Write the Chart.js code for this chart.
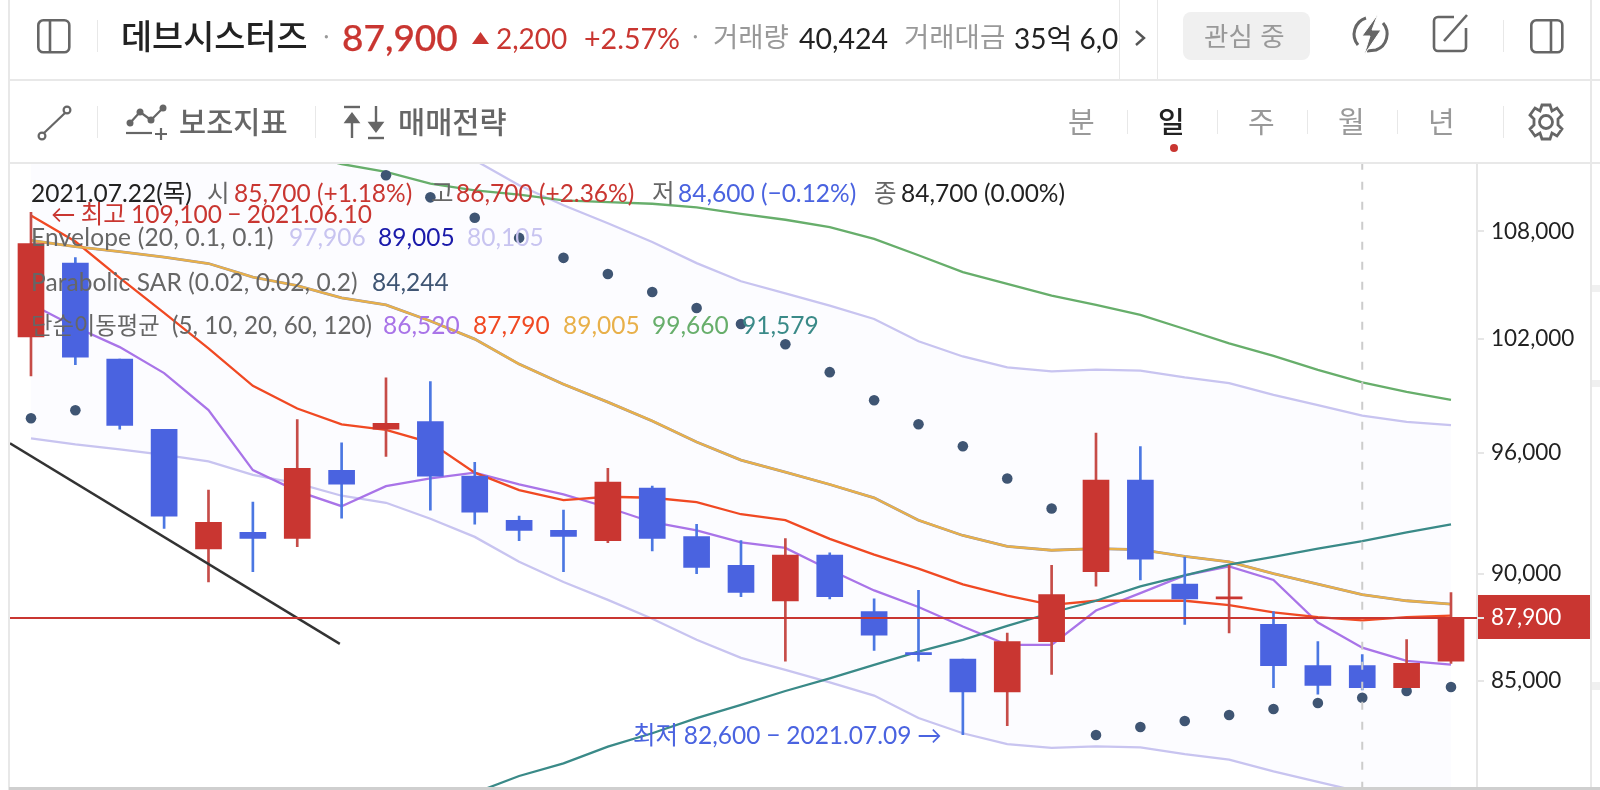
<!DOCTYPE html>
<html lang="ko">
<head>
<meta charset="utf-8">
<title>데브시스터즈</title>
<script src="https://cdn.jsdelivr.net/npm/chart.js@4"></script>
<style>
html,body{margin:0;padding:0;background:#fff;}
body{width:1600px;height:790px;position:relative;overflow:hidden;font-family:Lato,"Noto Sans CJK KR",sans-serif;}
canvas{position:absolute;left:0;top:0;}
.t{position:absolute;white-space:nowrap;line-height:1;}
.l{position:absolute;background:#e8e8e8;}
.h{font-family:"Noto Sans CJK KR",sans-serif;}
.lg{font-size:24.5px;color:#666;}
svg{position:absolute;overflow:visible;}
</style>
</head>
<body>
<canvas id="c" width="1600" height="795"></canvas>

<div class="l" style="left:8px;top:0;width:2px;height:790px"></div>
<div class="l" style="left:1590px;top:0;width:2px;height:163px"></div>
<div class="l" style="left:1590px;top:163px;width:2px;height:625px"></div>
<div class="l" style="left:9px;top:79px;width:1591px;height:2px"></div>
<div class="l" style="left:9px;top:162px;width:1591px;height:2px"></div>
<div class="l" style="left:9px;top:787px;width:1591px;height:3px;background:#cfcfcf"></div>
<div class="l" style="left:1592px;top:285px;width:8px;height:7px;background:#f0f0f0"></div>
<div class="l" style="left:1592px;top:380px;width:8px;height:7px;background:#f0f0f0"></div>
<div class="l" style="left:1592px;top:682px;width:8px;height:8px;background:#f0f0f0"></div>
<div class="l" style="left:1119px;top:0;width:1px;height:80px"></div>
<div class="l" style="left:1157px;top:0;width:1px;height:80px"></div>
<div class="l" style="left:97px;top:20px;width:1px;height:32px"></div>
<div class="l" style="left:1503px;top:20px;width:1px;height:32px"></div>
<div class="l" style="left:97px;top:106px;width:1px;height:32px"></div>
<div class="l" style="left:315px;top:106px;width:1px;height:32px"></div>
<div class="l" style="left:1127px;top:110px;width:1px;height:24px"></div>
<div class="l" style="left:1217px;top:110px;width:1px;height:24px"></div>
<div class="l" style="left:1307px;top:110px;width:1px;height:24px"></div>
<div class="l" style="left:1397px;top:110px;width:1px;height:24px"></div>
<div class="l" style="left:1503px;top:106px;width:1px;height:32px"></div>

<!-- header icons -->
<svg style="left:37px;top:19px" width="34" height="35" fill="none" stroke="#666" stroke-width="2.6"><rect x="1.3" y="1.3" width="31" height="32" rx="5"/><line x1="13" y1="1.3" x2="13" y2="33"/></svg>
<svg style="left:1530px;top:19px" width="34" height="35" fill="none" stroke="#666" stroke-width="2.6"><rect x="1.3" y="1.3" width="31" height="32" rx="5"/><line x1="21" y1="1.3" x2="21" y2="33"/></svg>
<svg style="left:1352px;top:14px" width="37" height="40" fill="none" stroke="#666" stroke-width="3"><path d="M6 31 A17 17 0 0 1 14 4"/><path d="M31 9 A17 17 0 0 1 24 36 L15 37"/><path d="M26 0 L10 22 L18 22 L12 41 L29 16 L20 16 Z" fill="#666" stroke="#fff" stroke-width="1"/></svg>
<svg style="left:1432px;top:14px" width="38" height="40" fill="none" stroke="#666" stroke-width="2.6"><path d="M22 3 H6 a4 4 0 0 0 -4 4 V33 a4 4 0 0 0 4 4 H30 a4 4 0 0 0 4 -4 V14"/><path d="M12 27 L35 1" stroke-width="2.6"/></svg>
<svg style="left:1133px;top:29px" width="14" height="18" fill="none" stroke="#555" stroke-width="2.4"><path d="M3 2 L11 9 L3 16"/></svg>
<svg style="left:37px;top:104px" width="35" height="37" fill="none" stroke="#666" stroke-width="2.2"><circle cx="30" cy="6" r="3.4"/><circle cx="5" cy="32" r="3.4"/><line x1="28" y1="9" x2="7" y2="29"/></svg>
<svg style="left:126px;top:105px" width="42" height="36" fill="none" stroke="#666" stroke-width="2.2"><path d="M4 18 L14 7 L25 15 L37 3"/><circle cx="4" cy="18" r="2.4" fill="#666"/><circle cx="14" cy="7" r="2.4" fill="#666"/><circle cx="25" cy="15" r="2.4" fill="#666"/><circle cx="37" cy="3" r="2.4" fill="#666"/><line x1="0" y1="28" x2="26" y2="28"/><path d="M29 29 H41 M35 23 V35"/></svg>
<svg style="left:344px;top:105px" width="42" height="36" fill="#666" stroke="#666" stroke-width="2.4"><line x1="0" y1="2" x2="16" y2="2"/><line x1="8" y1="12" x2="8" y2="33"/><path d="M2 17 L8 9 L14 17 Z"/><line x1="32" y1="1" x2="32" y2="24"/><path d="M26 18 L32 26 L38 18 Z"/><line x1="24" y1="33" x2="40" y2="33"/></svg>
<svg style="left:1527px;top:103px" width="38" height="38" fill="none" stroke="#666" stroke-width="2.8"><path d="M15 2 H23 L25 8 L30 5 L35 12 L31 16 V22 L35 26 L30 33 L25 30 L23 36 H15 L13 30 L8 33 L3 26 L7 22 V16 L3 12 L8 5 L13 8 Z"/><circle cx="19" cy="19" r="6.5"/></svg>
<svg style="left:472px;top:32px" width="18" height="13"><path d="M0 12 L8.5 0 L17 12 Z" fill="#c93631"/></svg>
<svg style="left:1170px;top:144px" width="8" height="8"><circle cx="4" cy="4" r="4" fill="#c93631"/></svg>

<!-- header text -->
<div class="t h" style="left:121px;top:18px;font-size:33.8px;font-weight:500;color:#222">데브시스터즈</div>
<div class="t h" style="left:323px;top:24px;font-size:24px;color:#999">·</div>
<div class="t" style="left:342px;top:18px;font-size:37px;font-weight:500;color:#c93631;-webkit-text-stroke:0.25px #c93631">87,900</div>
<div class="t" style="left:496px;top:24px;font-size:28px;color:#c93631">2,200</div>
<div class="t" style="left:584px;top:24px;font-size:28.6px;color:#c93631">+2.57%</div>
<div class="t h" style="left:692px;top:24px;font-size:24px;color:#999">·</div>
<div class="t h" style="left:713px;top:22px;font-size:27.5px;color:#999">거래량</div>
<div class="t" style="left:799px;top:24px;font-size:28.5px;color:#222">40,424</div>
<div class="t h" style="left:904px;top:22px;font-size:27.5px;color:#999">거래대금</div>
<div class="t" style="left:1014px;top:22px;width:105px;overflow:hidden;font-size:28px;color:#222;line-height:32px;font-family:Lato,'Noto Sans CJK KR'">35억 6,0</div>
<div class="l" style="left:1183px;top:12px;width:127px;height:48px;border-radius:8px;background:#f0f0f0"></div>
<div class="t h" style="left:1204px;top:22px;font-size:26.5px;color:#999">관심 중</div>
<div class="t h" style="left:179px;top:106px;font-size:29.5px;font-weight:500;color:#666">보조지표</div>
<div class="t h" style="left:398px;top:106px;font-size:29.5px;font-weight:500;color:#666">매매전략</div>
<div class="t h" style="left:1068px;top:106px;font-size:29px;color:#999">분</div>
<div class="t h" style="left:1158px;top:106px;font-size:29px;font-weight:500;color:#222">일</div>
<div class="t h" style="left:1248px;top:106px;font-size:29px;color:#999">주</div>
<div class="t h" style="left:1338px;top:106px;font-size:29px;color:#999">월</div>
<div class="t h" style="left:1428px;top:106px;font-size:29px;color:#999">년</div>

<!-- overlay legend -->
<div class="t lg" style="left:31px;top:181px;color:#222">2021.07.22(목)</div>
<div class="t lg" style="left:207px;top:181px">시</div>
<div class="t lg" style="left:234px;top:181px;color:#c93631">85,700 (+1.18%)</div>
<div class="t lg" style="left:431px;top:181px">고</div>
<div class="t lg" style="left:456px;top:181px;color:#c93631">86,700 (+2.36%)</div>
<div class="t lg" style="left:652px;top:181px">저</div>
<div class="t lg" style="left:678px;top:181px;color:#4a63e0">84,600 (−0.12%)</div>
<div class="t lg" style="left:874px;top:181px">종</div>
<div class="t lg" style="left:901px;top:181px;color:#222">84,700 (0.00%)</div>
<div class="t lg" style="left:51px;top:202px;color:#c93631;word-spacing:-1px">← 최고 109,100 − 2021.06.10</div>
<div class="t lg" style="left:31px;top:225px;letter-spacing:.18px">Envelope (20, 0.1, 0.1)</div>
<div class="t lg" style="left:289px;top:225px;color:#c8c4f0">97,906</div>
<div class="t lg" style="left:378px;top:225px;color:#1a1aaa">89,005</div>
<div class="t lg" style="left:467px;top:225px;color:#c8c4f0">80,105</div>
<div class="t lg" style="left:31px;top:270px;letter-spacing:.1px">Parabolic SAR (0.02, 0.02, 0.2)</div>
<div class="t lg" style="left:372px;top:270px;color:#3f5573">84,244</div>
<div class="t lg" style="left:31px;top:314px;font-size:23.3px">단순이동평균</div>
<div class="t lg" style="left:172px;top:313px;font-size:24.2px">(5, 10, 20, 60, 120)</div>
<div class="t lg" style="left:383px;top:313px;color:#a974e8">86,520</div>
<div class="t lg" style="left:473px;top:313px;color:#f04923">87,790</div>
<div class="t lg" style="left:563px;top:313px;color:#e8b04a">89,005</div>
<div class="t lg" style="left:652px;top:313px;color:#67ae6b">99,660</div>
<div class="t lg" style="left:742px;top:313px;color:#3a8a88">91,579</div>
<div class="t lg" style="left:633px;top:723px;color:#4a63e0;word-spacing:-.5px">최저 82,600 − 2021.07.09 →</div>

<script>
const dates = ['06.10','06.11','06.14','06.15','06.16','06.17','06.18','06.21','06.22','06.23','06.24','06.25','06.28','06.29','06.30','07.01','07.02','07.05','07.06','07.07','07.08','07.09','07.12','07.13','07.14','07.15','07.16','07.19','07.20','07.21','07.22','07.23','07.26'];
const opens  = [102100,106200,100900,97200,91200,92000,91700,95100,97200,97600,94800,92600,92100,91600,94200,91800,90400,88700,90900,88200,86300,86000,84500,86800,90100,94600,89500,88800,87600,85700,85700,84700,85900];
const highs  = [109100,106500,100900,97200,94100,93500,97700,96500,99900,99700,95500,92800,93100,95200,94300,92400,91600,91700,91000,88800,89200,86000,87200,90400,97000,96300,90800,90400,88200,86800,86200,86900,89100];
const lows   = [100000,100600,97200,92200,89600,90100,91300,92700,95800,93100,92400,91600,90100,91500,91100,90000,88900,85900,88800,86400,85900,82600,83000,85300,89400,89700,87600,87200,84700,84400,84600,84700,85800];
const closes = [107300,101000,97400,92800,92500,91700,95200,94400,97500,94800,93000,92100,91800,94500,91700,90300,89100,90900,88900,87100,86200,84500,86800,89000,94600,90700,88800,88900,85700,84800,84700,85800,87900];

const ma5   = [103905,102640,101545,100150,98200,95105,94045,93295,94295,94685,94975,94380,93880,93230,92500,92105,91515,91245,90190,89200,88415,87500,86650,86650,88250,89075,89920,90350,89700,87690,86520,85913,85745];
const ma10  = [108920,107420,105360,103410,101475,99470,98275,97455,97160,96510,94975,94095,93595,93765,93715,93495,92895,92600,91685,90915,90240,89485,88950,88520,88711,88711,88711,88505,88160,87940,87790,87940,88015];
const ma20  = [107480,107135,106850,106530,106170,105400,104930,104240,103850,102970,101980,100630,99560,98610,97630,96540,95610,95000,94380,93710,92600,91850,91320,91130,91210,91160,90835,90565,90000,89505,89005,88710,88555];
const ma60  = [null,null,null,null,null,null,112600,111950,111480,110785,110390,110135,109800,109705,109605,109390,109020,108674,108250,107575,106640,105680,105020,104370,103850,103300,102530,101750,101075,100325,99660,99150,98730];
const ma120 = [null,null,null,null,null,null,null,null,null,null,80080,80805,81350,82075,82665,83330,83920,84547,85120,85730,86340,86880,87535,88145,88711,89390,89920,90430,90805,91210,91579,92005,92400];
const envUpper = [118230,117850,117535,117180,116790,115940,115420,114660,114240,113270,112180,110690,109520,108470,107390,106190,105170,104500,103820,103080,101860,101040,100450,100240,100330,100280,99920,99620,99000,98460,97906,97580,97410];
const envLower = [96730,96420,96165,95875,95550,94860,94435,93815,93465,92670,91780,90570,89600,88750,87865,86885,86050,85500,84940,84340,83340,82665,82190,82020,82090,82045,81750,81510,81000,80555,80105,79840,79700];
const sar = [97770,98190,null,null,null,null,null,null,111280,109980,108790,107630,106490,105580,104570,103680,102800,101700,100200,98710,97455,96320,94680,93180,82590,82940,83207,83470,83740,84010,84244,84547,84725];
const tickValues = [108000,102000,96000,90000,87900,85000];
const lastPrice = 87900;
const crosshairIndex = 30;
const trendX = [-0.473,6.96];
const trendY = [96470,86695];
const xMin = -0.473, xMax = 32.586, yMin = 80216, yMax = 112010;

const RED='#c93631', BLUE='#4a63e0', WRED='#c64c48', WBLUE='#4b77e2';
const pts = a => a.map((y,i)=>({x:i,y}));
const lineDs = (label,data,color,order,w=2.3)=>({type:'line',label,data:pts(data),borderColor:color,borderWidth:w,pointRadius:0,tension:0,fill:false,order});
const up = i => closes[i] >= opens[i];

const lowerDs = lineDs('Envelope lower',envLower,'#c8c4f0',90);
const upperDs = lineDs('Envelope upper',envUpper,'#c8c4f0',91);
const datasets = [
  lowerDs,
  Object.assign(upperDs,{fill:{target:0},backgroundColor:'rgb(252,252,255)'}),
  lineDs('Envelope mid',ma20,'#8a8fb0',80,2.8),
  lineDs('MA120',ma120,'#3a8a88',70),
  lineDs('MA60',ma60,'#67ae6b',71),
  lineDs('MA20',ma20,'#e8b04a',72),
  lineDs('MA10',ma10,'#f04923',73),
  lineDs('MA5',ma5,'#a974e8',74),
  {type:'line',label:'Parabolic SAR',data:pts(sar),showLine:false,pointRadius:5.3,pointBorderWidth:0,pointBackgroundColor:'#3f5573',order:60},
  {type:'bar',label:'wick',grouped:false,barThickness:2,order:51,
   data:dates.map((_,i)=>({x:i,y:[lows[i],highs[i]]})),
   backgroundColor:dates.map((_,i)=>up(i)?WRED:WBLUE)},
  {type:'bar',label:'body',grouped:false,barThickness:26,order:50,
   data:dates.map((_,i)=>({x:i,y:[opens[i],closes[i]]})),
   backgroundColor:dates.map((_,i)=>up(i)?RED:BLUE)},
  {type:'line',label:'trend',data:trendX.map((x,i)=>({x,y:trendY[i]})),borderColor:'#333',borderWidth:2.4,pointRadius:0,order:5},
  {type:'line',label:'price',data:[{x:xMin,y:lastPrice},{x:xMax,y:lastPrice}],borderColor:RED,borderWidth:2,pointRadius:0,order:4},
  {type:'line',label:'crosshair',data:[{x:crosshairIndex,y:yMin},{x:crosshairIndex,y:yMax}],borderColor:'#cccccc',borderWidth:2,borderDash:[8,12],pointRadius:0,order:3}
];

const priceTag = {
  id:'priceTag',
  beforeDraw(ch){
    const s = ch.scales.y, g = ch.ctx, p = s.getPixelForValue(lastPrice);
    g.save(); g.fillStyle = RED; g.fillRect(s.left, p-23, 113, 44); g.restore();
  }
};

new Chart(document.getElementById('c'),{
  data:{datasets},
  plugins:[priceTag],
  options:{
    responsive:false,animation:false,
    layout:{padding:{left:10,top:163,bottom:2,right:10}},
    plugins:{legend:{display:false},tooltip:{enabled:false}},
    scales:{
      x:{type:'linear',min:xMin,max:xMax,display:false,offset:false},
      y:{type:'logarithmic',position:'right',min:yMin,max:yMax,
         afterFit(s){s.width=113;s.paddingTop=0;s.paddingBottom=0;s.paddingLeft=0;s.paddingRight=0;},
         afterBuildTicks(s){s.ticks=tickValues.map(value=>({value}));},
         border:{display:true,color:'#e6e6e6',width:2},
         grid:{drawOnChartArea:false,drawTicks:true,tickLength:7,color:'#e6e6e6',lineWidth:2},
         ticks:{autoSkip:false,crossAlign:'near',padding:7,font:{family:'Lato, "Noto Sans CJK KR"',size:22.5},
                color:c=>c.tick&&c.tick.value===lastPrice?'#fff':'#222',
                callback:v=>Number(v).toLocaleString('en-US')}
      }
    }
  }
});
</script>
</body>
</html>
